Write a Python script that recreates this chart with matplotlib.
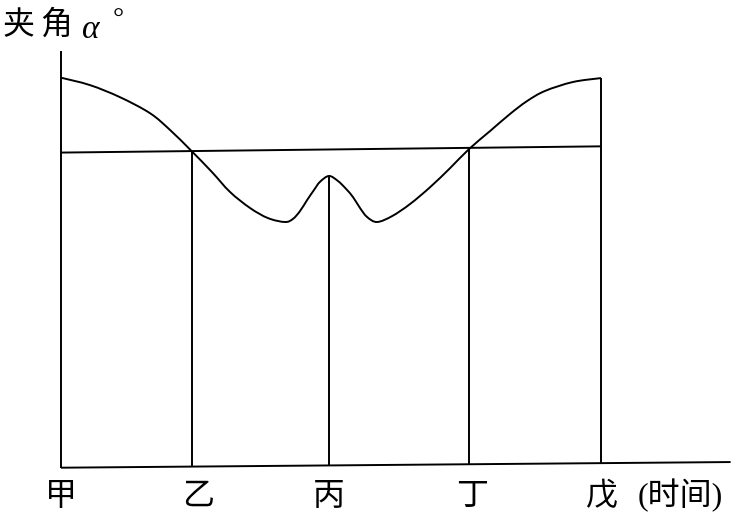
import numpy as np
import matplotlib
matplotlib.use("Agg")
import matplotlib.pyplot as plt
from matplotlib.path import Path
from matplotlib.patches import PathPatch

# ---- data ----
time_labels = ["甲", "乙", "丙", "丁", "戊"]
time_pos = [0.0, 2.42, 4.96, 7.56, 10.0]

curve_t = [0.0, 0.537, 1.093, 1.648, 2.019, 2.417, 2.796, 3.130, 3.500, 3.833,
           4.148, 4.296, 4.426, 4.556, 4.685, 4.796, 4.963, 5.130, 5.278, 5.407,
           5.537, 5.667, 5.852, 6.130, 6.463, 6.833, 7.204, 7.556, 7.944, 8.315,
           8.630, 8.963, 9.481, 10.0]
curve_a = [100.0, 98.1, 95.0, 90.9, 86.6, 81.2, 75.8, 70.7, 66.6, 64.0,
           63.0, 63.8, 65.8, 68.6, 71.2, 73.3, 74.8, 73.5, 71.5, 69.4,
           66.6, 64.3, 63.0, 64.5, 67.6, 71.9, 76.8, 81.7, 86.3, 90.7,
           94.0, 96.6, 98.9, 99.9]

ref_t = [0.0, 10.0]
ref_a = [80.8, 82.4]

base_t = [0.0, 12.4]
base_a = [0.0, 1.45]

yaxis_top = 106.8

ylabel_chars = ["夹", "角"]
xlabel_text = "(时间)"

# ---- figure ----
W, H = 736, 516
fig = plt.figure(figsize=(W / 100, H / 100), dpi=100)
fig.patch.set_facecolor("white")
x0, x1 = 61, 601
yb = 467.7
ax = fig.add_axes([x0 / W, (H - yb) / H, (x1 - x0) / W, 390 / H])
ax.set_xlim(0, 10)
ax.set_ylim(0, 100)
ax.axis("off")

lw = 1.4
kw = dict(color="black", lw=lw, clip_on=False, solid_capstyle="butt")

# baseline (time axis)
ax.plot(base_t, base_a, **kw)
# left vertical axis
ax.plot([time_pos[0], time_pos[0]], [np.interp(time_pos[0], base_t, base_a), yaxis_top], **kw)
# reference horizontal line
ax.plot(ref_t, ref_a, **kw)


# smooth curve through the read points (Catmull-Rom as cubic Bezier path)
def smooth_path(xs, ys):
    pts = np.column_stack([xs, ys])
    n = len(pts)
    verts = [pts[0]]
    codes = [Path.MOVETO]
    for i in range(n - 1):
        p0 = pts[i - 1] if i > 0 else pts[i]
        p1 = pts[i]
        p2 = pts[i + 1]
        p3 = pts[i + 2] if i + 2 < n else pts[i + 1]
        c1 = p1 + (p2 - p0) / 6.0
        c2 = p2 - (p3 - p1) / 6.0
        verts += [c1, c2, p2]
        codes += [Path.CURVE4] * 3
    return Path(verts, codes)


ax.add_patch(PathPatch(smooth_path(curve_t, curve_a), facecolor="none",
                       edgecolor="black", lw=lw, clip_on=False,
                       transform=ax.transData))

# vertical drop lines
tops = [
    np.interp(time_pos[1], ref_t, ref_a),
    np.interp(time_pos[2], curve_t, curve_a),
    np.interp(time_pos[3], ref_t, ref_a),
    np.interp(time_pos[4], curve_t, curve_a),
]
for tp, top in zip(time_pos[1:], tops):
    ax.plot([tp, tp], [np.interp(tp, base_t, base_a), top], **kw)

cjk = ["Noto Sans CJK SC", "DejaVu Sans"]
serif_cjk = ["Liberation Serif", "Noto Sans CJK SC"]

label_y = (yb - 496) / 3.9
label_dx = [0.0, 0.12, 0.0, 0.05, 0.0]
for tp, dx, lab in zip(time_pos, label_dx, time_labels):
    ax.text(tp + dx, label_y, lab, ha="center", va="center", fontsize=23,
            family=cjk)
ax.text(10.68, label_y, xlabel_text, ha="left", va="center", fontsize=23,
        family=serif_cjk)

# y label
fig.text(19 / W, 1 - 25 / H, ylabel_chars[0], ha="center", va="center",
         fontsize=23, family=cjk)
fig.text(56 / W, 1 - 25 / H, ylabel_chars[1], ha="center", va="center",
         fontsize=23, family=cjk)
fig.text(82 / W, 1 - 38 / H, "α", ha="left", va="baseline", fontsize=24,
         family="Liberation Serif", style="italic")
fig.text(113 / W, 1 - 27 / H, "°", ha="left", va="baseline", fontsize=20,
         family="Liberation Serif")

fig.savefig("out.png", dpi=100, facecolor="white")
